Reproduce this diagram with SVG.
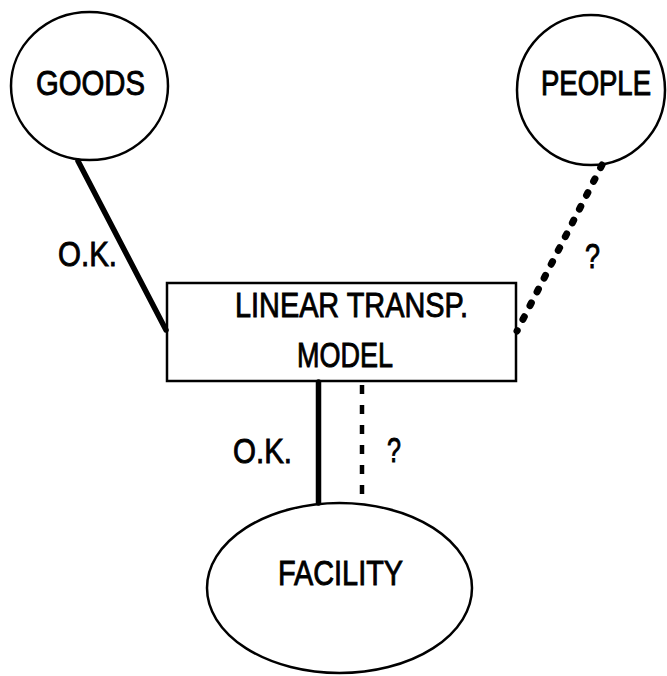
<svg xmlns="http://www.w3.org/2000/svg" width="667" height="676" viewBox="0 0 667 676">
<style>
.shape{fill:none;stroke:#000;stroke-width:2.5}
.lbl{font-family:"Liberation Sans",Arial,sans-serif;font-size:35px;fill:#000;stroke:#000;stroke-width:0.9}
.solid{stroke:#000;stroke-width:5.5;fill:none;stroke-linecap:round}
.dots{stroke:#000;stroke-width:7;fill:none;stroke-linecap:round;stroke-dasharray:3 12.5}
.dash{stroke:#000;stroke-width:4.5;fill:none;stroke-dasharray:9 11}
</style>
<rect width="667" height="676" fill="#fff"/>
<g id="connectors">
  <line class="solid" x1="78" y1="161" x2="166" y2="330"/>
  <line class="dots" x1="602" y1="165" x2="517" y2="331"/>
  <line class="solid" x1="318.5" y1="382" x2="318.5" y2="503"/>
  <line class="dash" x1="362" y1="385" x2="362" y2="503"/>
  <text class="lbl" x="58" y="266" textLength="59" lengthAdjust="spacingAndGlyphs">O.K.</text>
  <text class="lbl" x="233" y="463" textLength="59" lengthAdjust="spacingAndGlyphs">O.K.</text>
  <text class="lbl" x="585" y="268" textLength="15" lengthAdjust="spacingAndGlyphs">?</text>
  <text class="lbl" x="387" y="462" textLength="14" lengthAdjust="spacingAndGlyphs">?</text>
</g>
<g id="goods">
  <ellipse class="shape" cx="89.5" cy="86" rx="78.5" ry="74"/>
  <text class="lbl" x="36" y="95" textLength="109" lengthAdjust="spacingAndGlyphs">GOODS</text>
</g>
<g id="people">
  <ellipse class="shape" cx="591" cy="90" rx="74" ry="75"/>
  <text class="lbl" transform="translate(541,95) scale(1,1.25)" style="font-size:27.5px;stroke-width:0.8">PEOPLE</text>
</g>
<g id="model">
  <rect class="shape" x="167" y="283" width="349" height="98"/>
  <text class="lbl" x="235" y="317" textLength="233" lengthAdjust="spacingAndGlyphs">LINEAR TRANSP.</text>
  <text class="lbl" x="297" y="367" textLength="96" lengthAdjust="spacingAndGlyphs">MODEL</text>
</g>
<g id="facility">
  <ellipse class="shape" cx="339.5" cy="588" rx="132.5" ry="85"/>
  <text class="lbl" x="278" y="585" textLength="125" lengthAdjust="spacingAndGlyphs">FACILITY</text>
</g>
</svg>
